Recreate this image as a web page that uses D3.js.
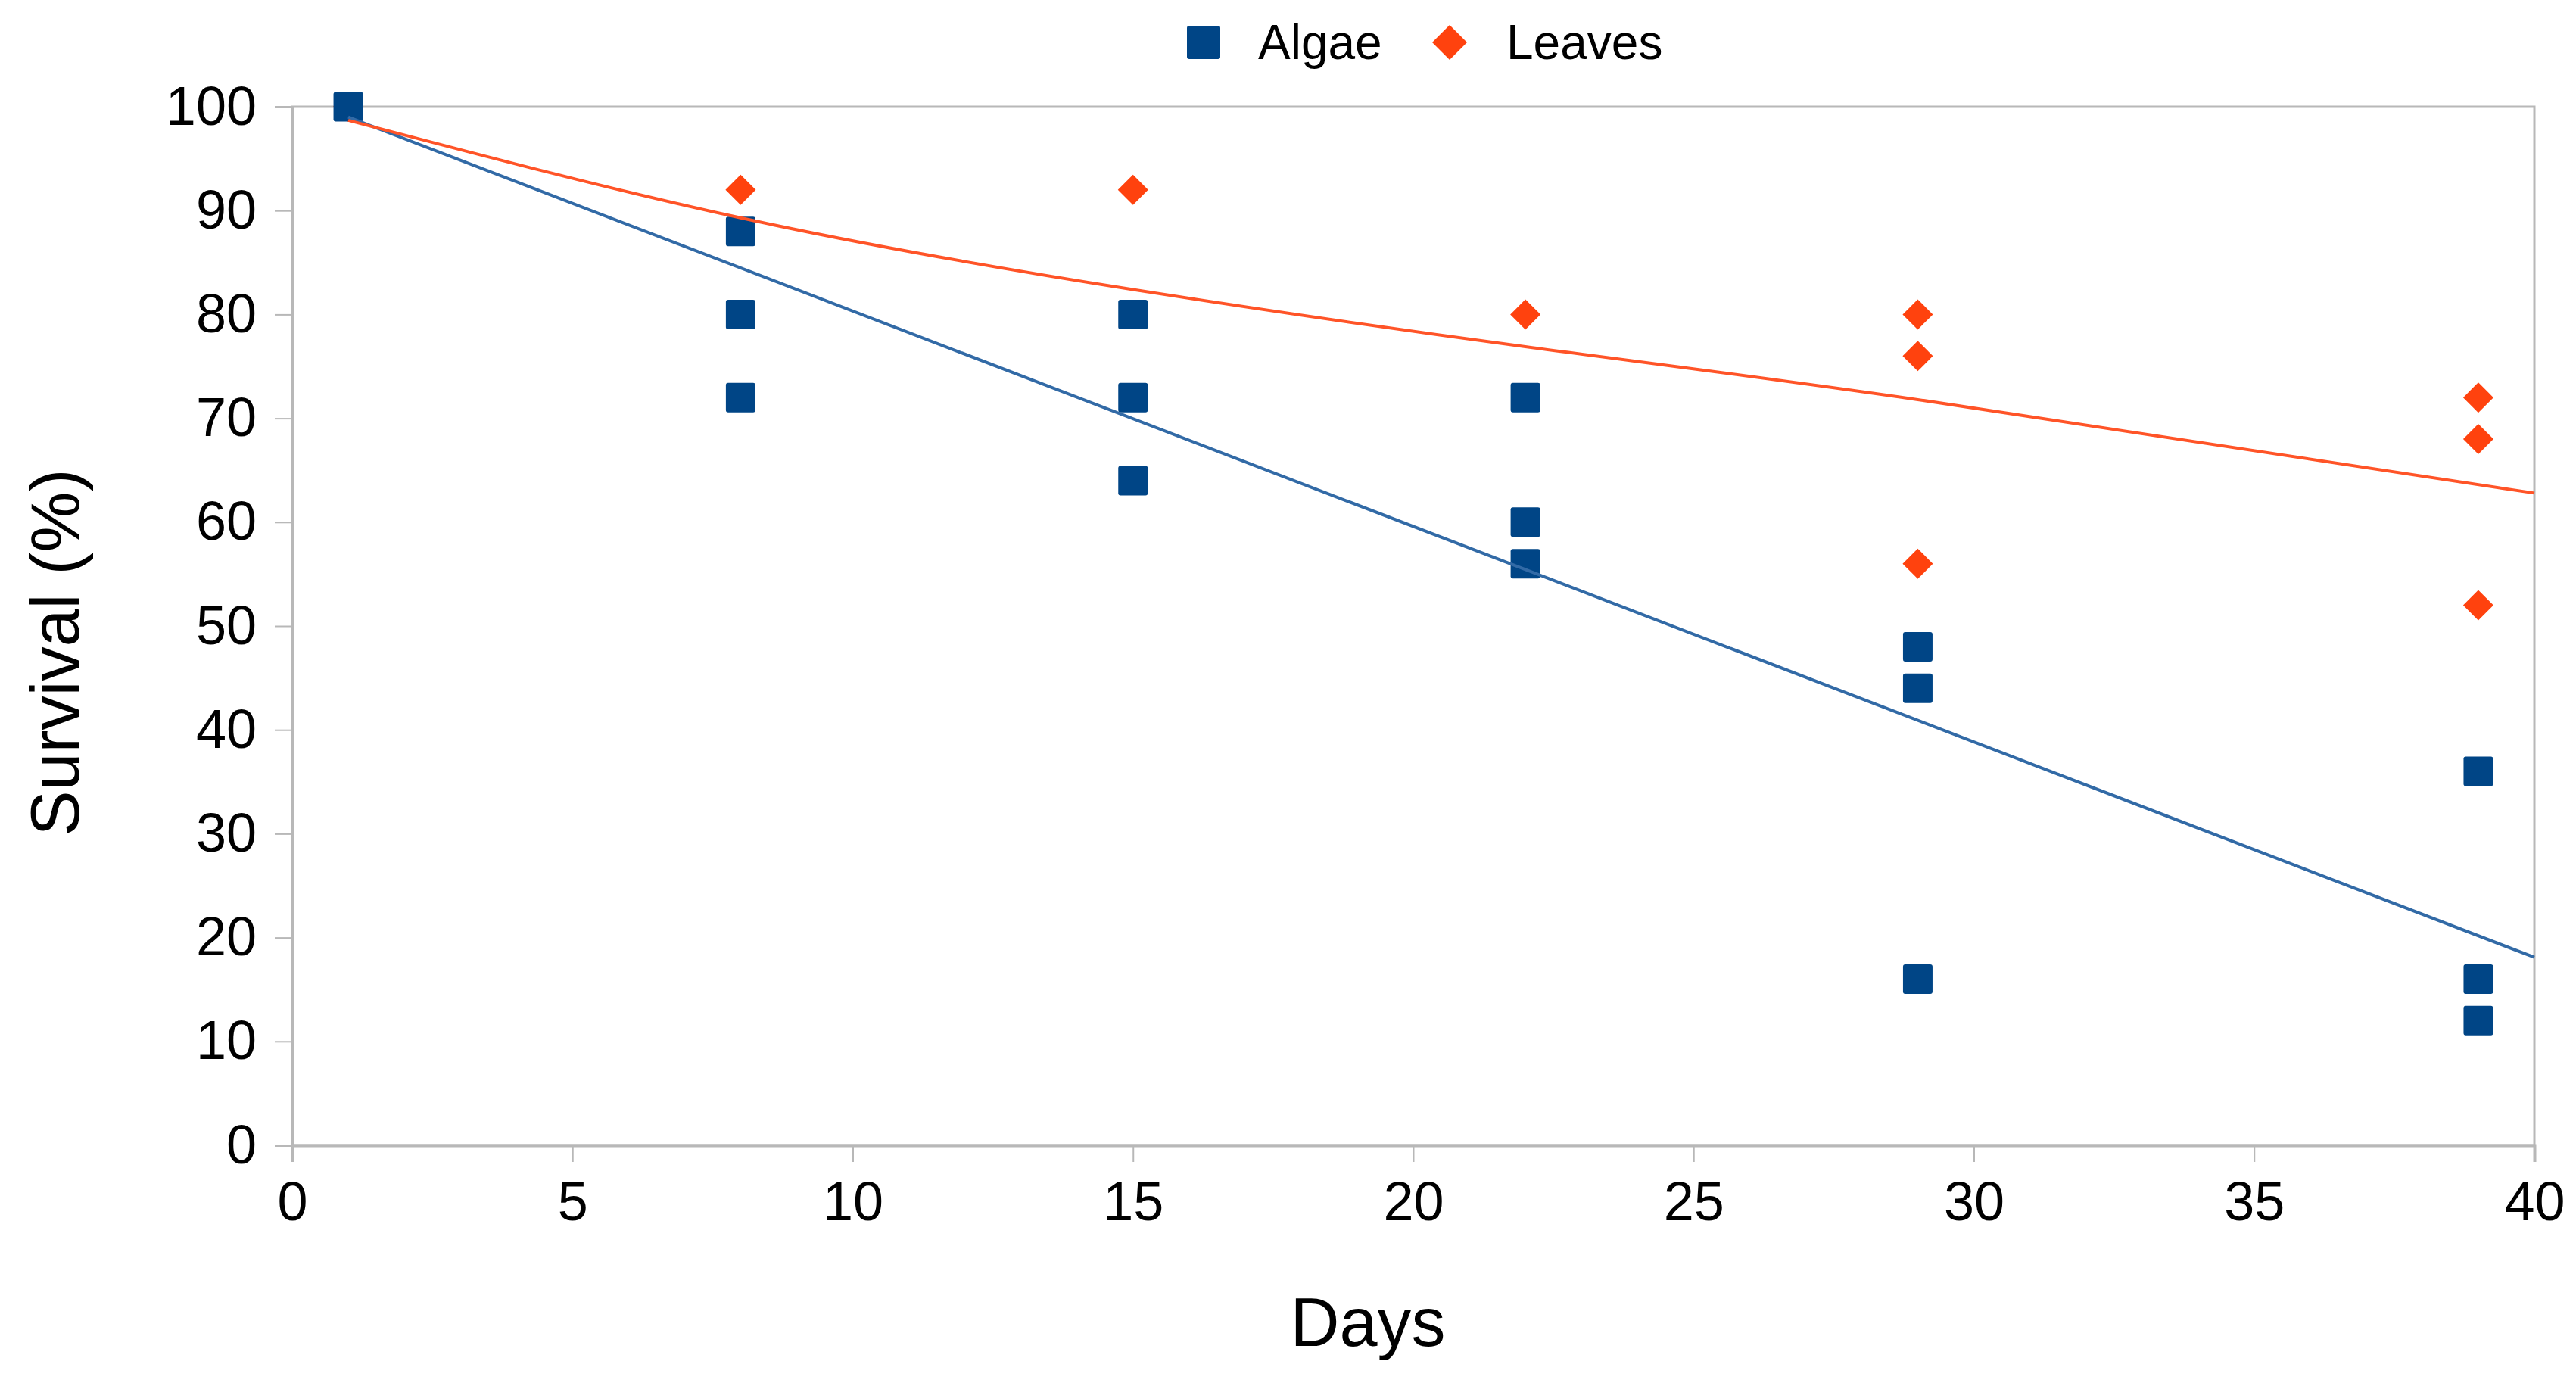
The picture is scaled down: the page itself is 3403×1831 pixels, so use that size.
<!DOCTYPE html>
<html>
<head>
<meta charset="utf-8">
<script src="https://cdn.jsdelivr.net/npm/d3@7"></script>
<style>
  body { margin: 0; background: #fff; }
  text { font-family: "Liberation Sans", Arial, sans-serif; fill: #000; }
</style>
</head>
<body>
<div id="chart"></div>
<script>
// data
var days = [1, 8, 15, 22, 29, 39];
var algae = [[100], [88, 80, 72], [80, 72, 64], [72, 60, 56], [48, 44, 16], [36, 16, 12]];
var leaves = [[100], [92], [92], [80], [80, 76, 56], [72, 68, 52]];
// trend lines as they appear in the picture
var algaeTrend = [[1, 99.0], [40, 18.1]];
var leavesTrend = [[1, 98.7], [8, 89.3], [15, 82.4], [22, 76.9], [29, 71.8], [40, 62.8]];
var xTicks = [0, 5, 10, 15, 20, 25, 30, 35, 40];
var yTicks = [0, 10, 20, 30, 40, 50, 60, 70, 80, 90, 100];
var seriesNames = ["Algae", "Leaves"];
var colors = ["#004586", "#ff420e"];
var lineColors = ["#326aa6", "#ff5428"];

var W = 3403, H = 1831;
var plotL = 386, plotR = 3348, plotT = 141, plotB = 1513;

var svg = d3.select("#chart").append("svg")
    .attr("width", W)
    .attr("height", H);

var x = d3.scaleLinear().domain([0, 40]).range([plotL, plotR]);
var y = d3.scaleLinear().domain([0, 100]).range([plotB, plotT]);

// plot border (top and right sides show)
svg.append("rect")
    .attr("x", plotL).attr("y", plotT)
    .attr("width", plotR - plotL).attr("height", plotB - plotT)
    .attr("fill", "none")
    .attr("stroke", "#b8b8b8")
    .attr("stroke-width", 3);

var yAxis = svg.append("g")
    .attr("transform", "translate(" + plotL + ",0)")
    .call(d3.axisLeft(y).tickValues(yTicks).tickSize(23).tickPadding(24));
var xAxis = svg.append("g")
    .attr("transform", "translate(0," + plotB + ")")
    .call(d3.axisBottom(x).tickValues(xTicks).tickSize(22).tickPadding(26));

[yAxis, xAxis].forEach(function(g) {
  g.select(".domain").attr("stroke", "#b8b8b8").attr("stroke-width", 3);
  g.selectAll(".tick line").attr("stroke", "#b8b8b8").attr("stroke-width", 2);
  g.selectAll(".tick text")
    .style("font-family", '"Liberation Sans", Arial, sans-serif')
    .style("font-size", "72px")
    .attr("fill", "#000");
});
xAxis.select(".domain").attr("stroke-width", 4);

function points(vals) {
  var out = [];
  days.forEach(function(d, i) {
    vals[i].forEach(function(v) { out.push([d, v]); });
  });
  return out;
}

var sq = 39, dm = 40;
// leaves first, algae on top
svg.append("g").selectAll("path")
    .data(points(leaves))
    .enter().append("path")
    .attr("transform", function(d) { return "translate(" + x(d[0]) + "," + y(d[1]) + ")"; })
    .attr("d", "M0," + (-dm / 2) + "L" + (dm / 2) + ",0L0," + (dm / 2) + "L" + (-dm / 2) + ",0Z")
    .attr("fill", colors[1]);

svg.append("g").selectAll("rect")
    .data(points(algae))
    .enter().append("rect")
    .attr("x", function(d) { return x(d[0]) - sq / 2; })
    .attr("y", function(d) { return y(d[1]) - sq / 2; })
    .attr("width", sq).attr("height", sq)
    .attr("rx", 3)
    .attr("fill", colors[0]);

// trend lines
var line = d3.line()
    .x(function(d) { return x(d[0]); })
    .y(function(d) { return y(d[1]); });

svg.append("path")
    .attr("d", line(algaeTrend))
    .attr("fill", "none")
    .attr("stroke", lineColors[0])
    .attr("stroke-width", 4);

svg.append("path")
    .attr("d", line.curve(d3.curveNatural)(leavesTrend))
    .attr("fill", "none")
    .attr("stroke", lineColors[1])
    .attr("stroke-width", 4);

// axis titles
svg.append("text")
    .attr("x", 1807).attr("y", 1778)
    .attr("text-anchor", "middle")
    .style("font-size", "90px")
    .text("Days");

svg.append("text")
    .attr("transform", "translate(104,862) rotate(-90)")
    .attr("text-anchor", "middle")
    .style("font-size", "90px")
    .text("Survival (%)");

// legend
var leg = svg.append("g");
leg.append("rect")
    .attr("x", 1590 - 22).attr("y", 56 - 22)
    .attr("width", 44).attr("height", 44)
    .attr("rx", 3)
    .attr("fill", colors[0]);
leg.append("text")
    .attr("x", 1662).attr("y", 78)
    .style("font-size", "64px")
    .text(seriesNames[0]);
leg.append("path")
    .attr("transform", "translate(1915,56)")
    .attr("d", "M0,-23L23,0L0,23L-23,0Z")
    .attr("fill", colors[1]);
leg.append("text")
    .attr("x", 1990).attr("y", 78)
    .style("font-size", "64px")
    .text(seriesNames[1]);
</script>
</body>
</html>
